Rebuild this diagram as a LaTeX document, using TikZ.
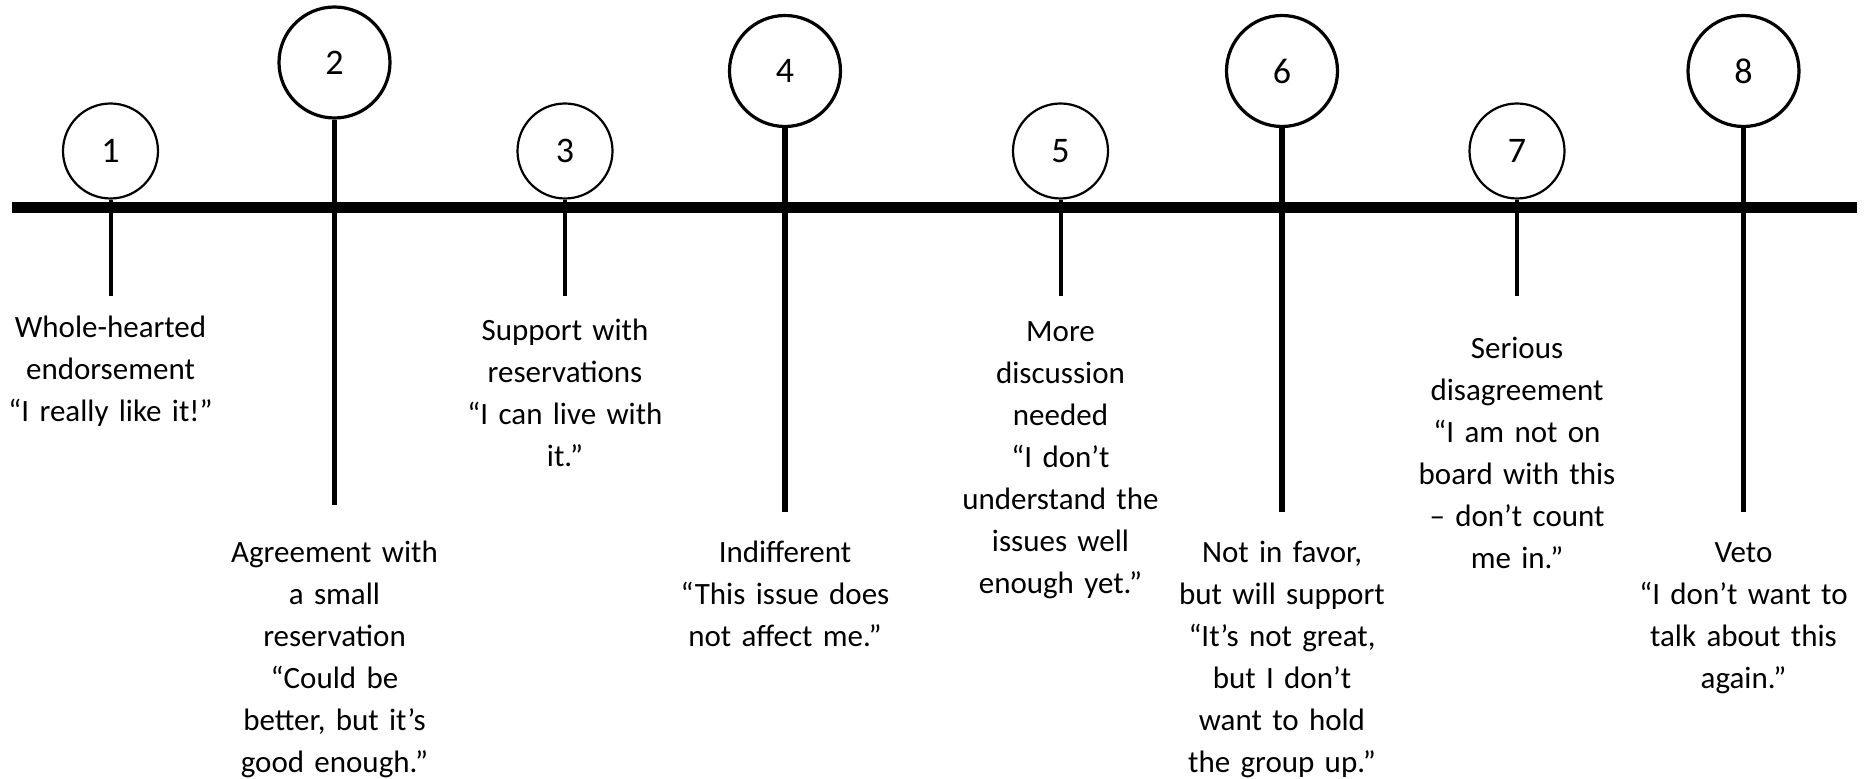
\documentclass[tikz,border=0pt]{standalone}
\usepackage{fontspec}
\setmainfont{Carlito}

\begin{document}
\begin{tikzpicture}[x=0.5pt,y=-0.5pt,
    pin/.style={circle,draw,line width=1.1pt,minimum size=47.5pt,inner sep=0pt,
      font=\fontsize{18}{18}\selectfont},
    bigpin/.style={pin,line width=1.6pt,minimum size=55.5pt},
    vote/.style={text width=130pt,align=center,inner sep=0pt,anchor=base,
      font=\fontsize{15.5}{21}\selectfont}]
  \useasboundingbox (0,0) rectangle (1864,779);

  % the scale
  \coordinate (left) at (12,207.5);
  \coordinate (right) at (1857,207.5);
  \draw[line width=5.75pt] (left) -- (right);

  % small pins
  \node[pin] (c1) at (110.5,151) {1};
  \node[pin] (c3) at (565,151) {3};
  \node[pin] (c5) at (1060.5,151) {5};
  \node[pin] (c7) at (1517,151) {7};
  \coordinate (e1) at (110.5,296);
  \coordinate (e3) at (565,296);
  \coordinate (e5) at (1060.5,296);
  \coordinate (e7) at (1517,296);
  \foreach \i in {1,3,5,7}
    \draw[line width=2pt] (c\i.south) -- (e\i);

  % big pins
  \node[bigpin] (c2) at (334.5,62.5) {2};
  \node[bigpin] (c4) at (785,71) {4};
  \node[bigpin] (c6) at (1282,71) {6};
  \node[bigpin] (c8) at (1743.5,71) {8};
  \coordinate (e2) at (334.5,505);
  \coordinate (e4) at (785,512);
  \coordinate (e6) at (1282,512);
  \coordinate (e8) at (1743.5,512);
  \foreach \i in {2,4,6,8}
    \draw[line width=2.75pt] (c\i.south) -- (e\i);

  % texts
  \node[vote] (t1) at (110.5,338) {Whole-hearted\\endorsement\\“I really like it!”};
  \node[vote] (t2) at (334.5,563) {Agreement with\\a small\\reservation\\“Could be\\better, but it’s\\good enough.”};
  \node[vote] (t3) at (565,341) {Support with\\reservations\\“I can live with\\it.”};
  \node[vote] (t4) at (785,563) {Indifferent\\“This issue does\\not affect me.”};
  \node[vote] (t5) at (1060.5,342) {More\\discussion\\needed\\“I don’t\\understand the\\issues well\\enough yet.”};
  \node[vote] (t6) at (1282,563) {Not in favor,\\but will support\\“It’s not great,\\but I don’t\\want to hold\\the group up.”};
  \node[vote] (t7) at (1517,359) {Serious\\disagreement\\“I am not on\\board with this\\– don’t count\\me in.”};
  \node[vote] (t8) at (1743.5,563) {Veto\\“I don’t want to\\talk about this\\again.”};
\end{tikzpicture}
\end{document}
